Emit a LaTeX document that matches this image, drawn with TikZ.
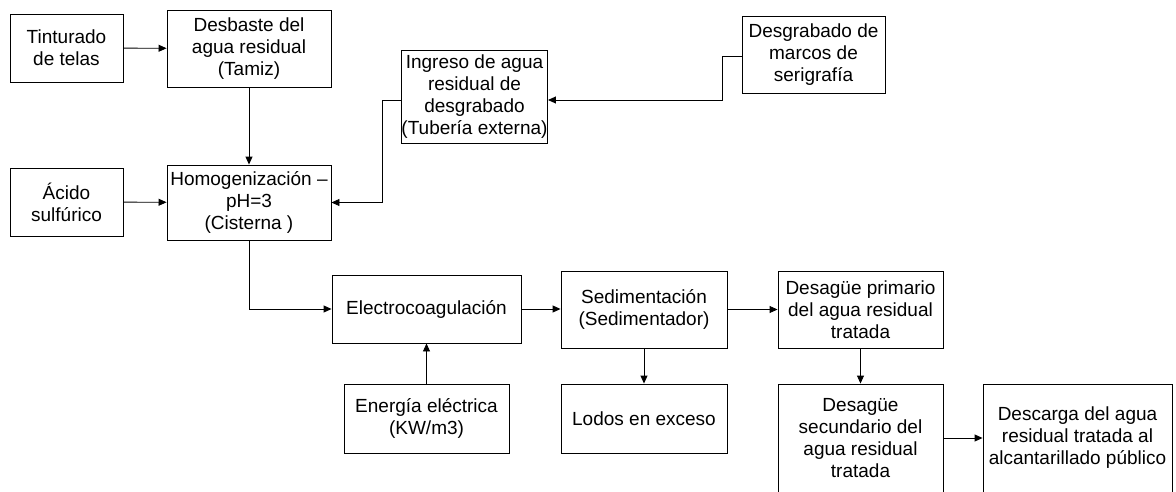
\documentclass[tikz,border=0pt]{standalone}
\usepackage{fontspec}
\setmainfont{Liberation Sans}
\usetikzlibrary{positioning, arrows.meta}

\begin{document}
\begin{tikzpicture}[x=1pt, y=-1pt, line width=0.9pt, >={Triangle[length=8pt, width=7pt]},
                    main/.style = {draw, rectangle, align=center, inner sep=0pt, font=\fontsize{19}{22}\selectfont}]
                    \useasboundingbox (0,0) rectangle (1176,491);
                    % Nodes
                    \node[main, minimum width=113, minimum height=68] (tint) at (66.5,48) {Tinturado\\de telas};
                    \node[main, minimum width=164, minimum height=77] (desb) at (249,48.5) {Desbaste del\\agua residual\\(Tamiz)};
                    \node[main, minimum width=113, minimum height=68] (acido) at (66.5,202) {Ácido\\sulfúrico};
                    \node[main, minimum width=164, minimum height=75] (homog) at (249,202.5) {Homogenización --\\pH=3\\(Cisterna\ )};
                    \node[main, minimum width=145, minimum height=93] (ingreso) at (474.5,96.5) {Ingreso de agua\\residual de\\desgrabado\\(Tubería externa)};
                    \node[main, minimum width=143, minimum height=77] (desgr) at (813.5,54.5) {Desgrabado de\\marcos de\\serigrafía};
                    \node[main, minimum width=189, minimum height=68] (electro) at (426.5,309) {Electrocoagulación};
                    \node[main, minimum width=166, minimum height=77] (sedim) at (644,309.5) {Sedimentación\\(Sedimentador)};
                    \node[main, minimum width=165, minimum height=69] (energia) at (426.5,418.5) {Energía eléctrica\\(KW/m3)};
                    \node[main, minimum width=166, minimum height=69] (lodos) at (644,418.5) {Lodos en exceso};
                    \node[main, minimum width=165, minimum height=77] (prim) at (860.5,309.5) {Desagüe primario\\del agua residual\\tratada};
                    \node[main, minimum width=165, minimum height=108] (sec) at (860.5,438) {Desagüe\\secundario del\\agua residual\\tratada};
                    \node[main, minimum width=189, minimum height=108] (desc) at (1077.5,438) {Descarga del agua\\residual tratada al\\alcantarillado público};

                    % Lines
                    \draw[->] (tint) -- (desb);
                    \draw[->] (desb) -- (homog);
                    \draw[->] (acido) -- (homog);
                    \draw[->] ([yshift=-3.5pt]ingreso.west) -- ++(-19,0) |- (homog.east);
                    \draw[->] ([yshift=-1.5pt]desgr.west) -- ++(-19,0) |- ([yshift=-3.5pt]ingreso.east);
                    \draw[->] (homog.south) |- (electro.west);
                    \draw[->] (electro.east) -- (sedim.west |- electro.east);
                    \draw[->] (sedim) -- (prim);
                    \draw[->] (energia) -- (electro);
                    \draw[->] (sedim) -- (lodos);
                    \draw[->] (prim) -- (sec);
                    \draw[->] (sec) -- (desc);
                \end{tikzpicture}
\end{document}
